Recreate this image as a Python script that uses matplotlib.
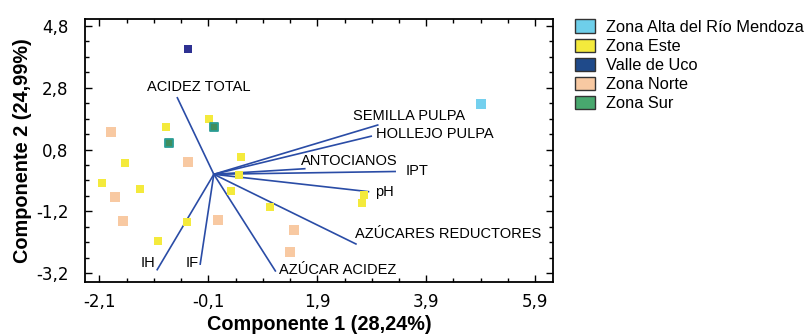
import numpy as np
import matplotlib
matplotlib.use("Agg")
import matplotlib.pyplot as plt
from matplotlib.patches import Patch
from matplotlib.ticker import FixedLocator, FuncFormatter

plt.rcParams['font.family'] = ['Liberation Sans', 'DejaVu Sans']

# biplot vectors (end points, origin at 0,0)
var_names = ["ACIDEZ TOTAL", "SEMILLA PULPA", "HOLLEJO PULPA", "ANTOCIANOS", "IPT",
             "pH", "AZÚCARES REDUCTORES", "AZÚCAR ACIDEZ", "IF", "IH"]
var_x = [-0.67, 3.01, 2.89, 1.67, 3.33, 2.84, 2.61, 1.13, -0.25, -1.04]
var_y = [2.47, 1.59, 1.23, 0.18, 0.09, -0.56, -2.25, -3.12, -2.90, -3.08]
lab_x = [-1.22, 2.56, 2.98, 1.60, 3.53, 2.96, 2.60, 1.19, -0.51, -1.35]
lab_y = [2.81, 1.88, 1.29, 0.42, 0.10, -0.58, -1.93, -3.08, -2.87, -2.87]

# samples per zone
alta_x = [4.91]
alta_y = [2.28]
este_x = [-0.88, -0.08, -1.64, -2.05, -1.35, 0.49, 0.46, 0.32, 1.04, -0.49, -1.02, 2.76, 2.73]
este_y = [1.52, 1.80, 0.36, -0.27, -0.46, 0.56, -0.03, -0.54, -1.05, -1.55, -2.15, -0.67, -0.92]
uco_x = [-0.48]
uco_y = [4.06]
norte_x = [-1.88, -0.48, -1.82, -1.67, 0.07, 1.47, 1.39]
norte_y = [1.37, 0.39, -0.74, -1.51, -1.48, -1.79, -2.52]
sur_x = [-0.82, 0.00]
sur_y = [1.02, 1.53]

zone_names = ["Zona Alta del Río Mendoza", "Zona Este", "Valle de Uco", "Zona Norte", "Zona Sur"]
zone_colors = ["#74D0EE", "#F4EA3C", "#2E3192", "#F8C9A2", "#3F8E5E"]
legend_colors = ["#6ECFEA", "#F4EA3C", "#1F4A8A", "#F8C9A2", "#48A86E"]

x_major = [-2.1, -0.1, 1.9, 3.9, 5.9]
y_major = [-3.2, -1.2, 0.8, 2.8, 4.8]

fig = plt.figure(figsize=(8.05, 3.35), dpi=100)
ax = fig.add_axes([0.106, 0.158, 0.581, 0.784])

line_col = "#2A4CA6"
for i in range(len(var_names)):
    ax.plot([0, var_x[i]], [0, var_y[i]], color=line_col, lw=1.2, zorder=2)
    ax.text(lab_x[i], lab_y[i], var_names[i], fontsize=10.5, ha='left', va='center', zorder=4)

ax.scatter(norte_x, norte_y, s=48, marker='s', color=zone_colors[3], linewidths=0, zorder=3)
ax.scatter(este_x, este_y, s=26, marker='s', color=zone_colors[1], linewidths=0, zorder=3)
ax.scatter(uco_x, uco_y, s=38, marker='s', color=zone_colors[2], linewidths=0, zorder=3)
ax.scatter(alta_x, alta_y, s=44, marker='s', color=zone_colors[0], linewidths=0, zorder=3)
ax.scatter(sur_x, sur_y, s=40, marker='s', color=zone_colors[4], edgecolors="#2A9D94",
           linewidths=1.3, zorder=3)

ax.set_xlim(-2.36, 6.23)
ax.set_ylim(-3.48, 5.0)
ax.xaxis.set_major_locator(FixedLocator(x_major))
ax.yaxis.set_major_locator(FixedLocator(y_major))
ax.xaxis.set_minor_locator(FixedLocator(np.arange(-2.1, 6.2, 0.5)))
ax.yaxis.set_minor_locator(FixedLocator(np.arange(-3.2, 5.0, 0.5)))
fmt = FuncFormatter(lambda v, p: ("%.1f" % v).replace(".", ","))
ax.xaxis.set_major_formatter(fmt)
ax.yaxis.set_major_formatter(fmt)
ax.tick_params(which='both', direction='in', top=True, right=True, width=1)
ax.tick_params(which='major', length=5)
ax.tick_params(which='minor', length=3)
ax.tick_params(axis='x', which='major', pad=8)
ax.tick_params(axis='y', which='major', pad=12)
for lbl in ax.get_xticklabels() + ax.get_yticklabels():
    lbl.set_fontfamily('DejaVu Sans')
    lbl.set_fontsize(12)
for sp in ax.spines.values():
    sp.set_linewidth(1.3)

ax.set_xlabel("Componente 1 (28,24%)", fontsize=14.3, fontweight='bold', labelpad=3)
ax.set_ylabel("Componente 2 (24,99%)", fontsize=14.3, fontweight='bold', labelpad=3)

handles = [Patch(facecolor=c, edgecolor="#333333", linewidth=1) for c in legend_colors]
ax.legend(handles, zone_names, loc='upper left', bbox_to_anchor=(1.047, 1.0), frameon=False,
          fontsize=11.8, handlelength=1.2, handleheight=0.85, handletextpad=0.7,
          labelspacing=0.24, borderaxespad=0, borderpad=0)

fig.savefig("out.png", dpi=100)
